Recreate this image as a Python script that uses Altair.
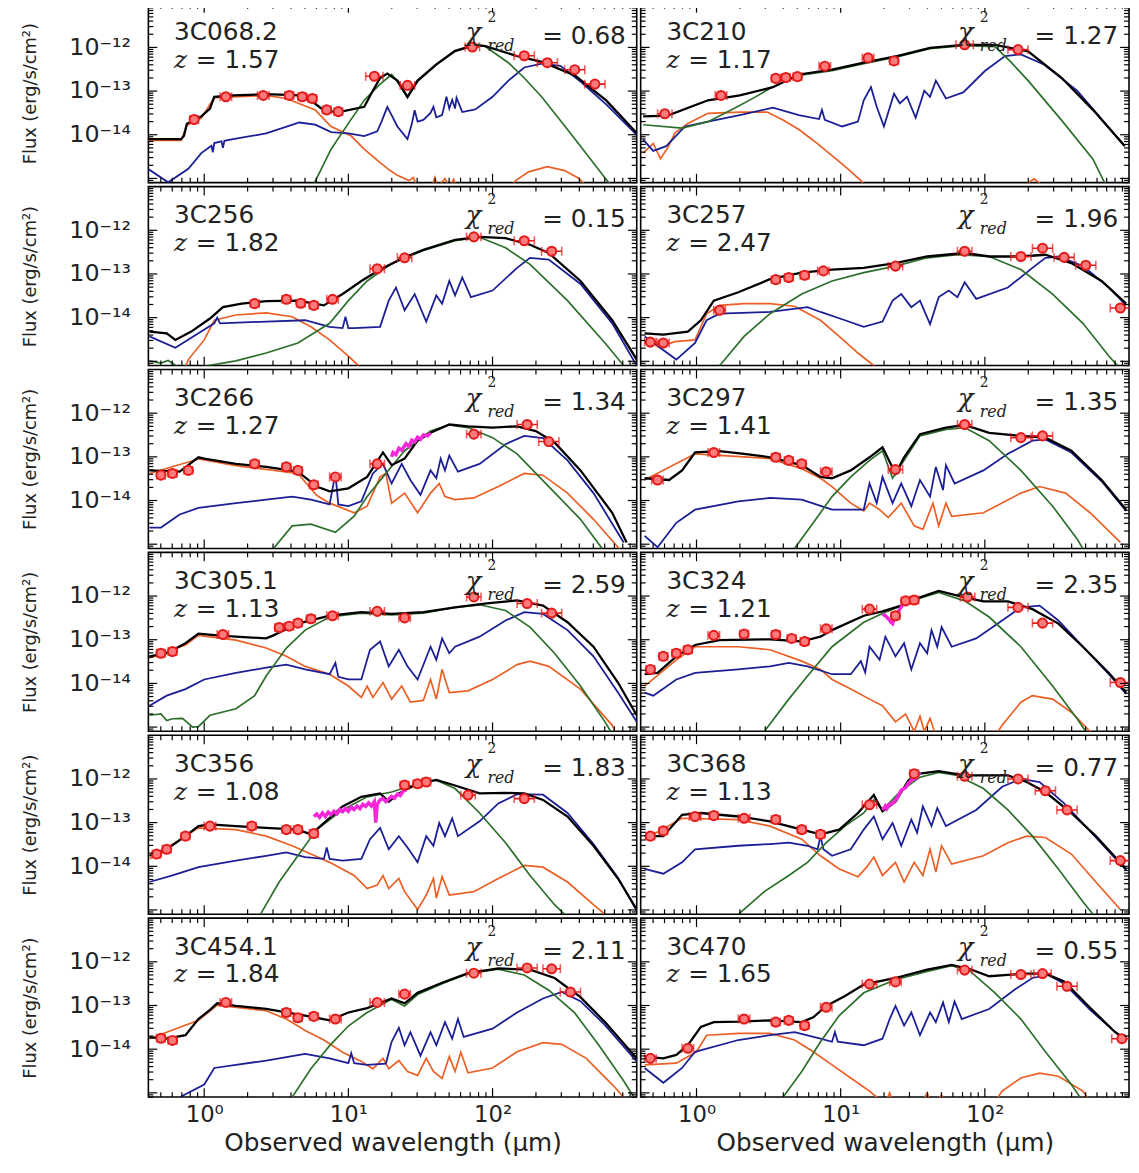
import altair as alt
import pandas as pd

# ------------------------------------------------------------------ labels
NAMES = ["3C068.2", "3C210", "3C256", "3C257", "3C266", "3C297",
         "3C305.1", "3C324", "3C356", "3C368", "3C454.1", "3C470"]
REDSHIFTS = ["1.57", "1.17", "1.82", "2.47", "1.27", "1.41",
             "1.13", "1.21", "1.08", "1.13", "1.84", "1.65"]
CHI2_RED = ["0.68", "1.27", "0.15", "1.96", "1.34", "1.35",
            "2.59", "2.35", "1.83", "0.77", "2.11", "0.55"]

Y_LABEL_VALUES = [1e-14, 1e-13, 1e-12]
X_LABEL_VALUES = [1, 10, 100]
Y_MAJOR = [1e-15, 1e-14, 1e-13, 1e-12]
X_MAJOR = [1, 10, 100]

# ------------------------------------------------------------------ data
# every curve: list of (log10 wavelength [um], log10 flux [erg/s/cm2])
# photometry: (log10 wavelength, log10 flux, half width of x error bar in dex)

P01_BLACK = [(-0.39, -14.10), (-0.16, -14.10), (-0.14, -14.02), (-0.12, -13.75), (-0.02, -13.58), (0.04, -13.40),
             (0.07, -13.13), (0.20, -13.10), (0.43, -13.07), (0.66, -13.10), (0.77, -13.29), (0.84, -13.47),
             (0.95, -13.47), (1.11, -13.36), (1.16, -13.05), (1.22, -12.70), (1.27, -12.60), (1.34, -12.76),
             (1.41, -13.13), (1.48, -12.76), (1.61, -12.39), (1.74, -12.08), (1.88, -11.94), (1.95, -11.97),
             (2.16, -12.19), (2.34, -12.33), (2.57, -12.64), (2.79, -13.22), (3.0, -13.96)]
P01_BLUE = [(-0.39, -14.78), (-0.25, -15.09), (-0.11, -14.78), (-0.02, -14.42), (0.05, -14.25), (0.06, -14.40),
            (0.07, -14.19), (0.12, -14.15), (0.13, -14.30), (0.14, -14.14), (0.20, -14.10), (0.43, -13.97),
            (0.66, -13.72), (0.77, -13.77), (0.88, -13.94), (1.0, -13.97), (1.11, -14.03), (1.20, -13.92),
            (1.23, -13.70), (1.27, -13.36), (1.30, -13.55), (1.34, -13.81), (1.41, -14.10), (1.44, -13.75),
            (1.46, -13.44), (1.48, -13.70), (1.52, -13.66), (1.57, -13.50), (1.59, -13.36), (1.61, -13.60),
            (1.65, -13.55), (1.68, -13.13), (1.70, -13.40), (1.72, -13.20), (1.74, -13.40), (1.75, -13.15),
            (1.79, -13.48), (1.88, -13.42), (2.0, -13.13), (2.11, -12.76), (2.22, -12.46), (2.34, -12.37),
            (2.47, -12.42), (2.61, -12.78), (2.79, -13.31), (3.0, -14.0)]
P01_ORANGE = [(-0.39, -14.13), (-0.16, -14.13), (-0.12, -13.78), (-0.02, -13.62), (0.07, -13.15), (0.43, -13.10),
              (0.57, -13.17), (0.77, -13.43), (0.88, -13.81), (1.02, -14.03), (1.11, -14.33), (1.22, -14.64),
              (1.29, -14.82), (1.34, -14.93), (1.42, -15.05), (1.45, -14.98), (1.48, -15.20), (1.58, -15.20),
              (1.60, -14.98), (1.62, -15.20), (1.67, -15.0), (1.70, -15.20), (1.73, -15.02), (1.76, -15.3),
              (2.10, -15.3), (2.16, -15.05), (2.25, -14.85), (2.38, -14.73), (2.50, -14.82), (2.60, -15.0),
              (2.68, -15.3)]
P01_GREEN = [(0.75, -15.2), (0.88, -14.33), (1.0, -13.74), (1.11, -13.21), (1.22, -12.84), (1.30, -12.62),
             (1.34, -12.78), (1.41, -13.15), (1.48, -12.78), (1.61, -12.40), (1.74, -12.09), (1.88, -11.95),
             (1.95, -11.98), (2.11, -12.35), (2.22, -12.70), (2.34, -13.13), (2.52, -13.88), (2.68, -14.56),
             (2.82, -15.16)]
P01_POINTS = [(-0.07, -13.65, 0.03), (0.15, -13.13, 0.04), (0.41, -13.10, 0.04), (0.59, -13.10, 0.03),
              (0.68, -13.13, 0.03), (0.75, -13.17, 0.03), (0.85, -13.43, 0.03), (0.93, -13.47, 0.03),
              (1.18, -12.66, 0.06), (1.41, -12.87, 0.05), (1.86, -11.99, 0.05), (2.22, -12.19, 0.07),
              (2.38, -12.35, 0.07), (2.57, -12.51, 0.07), (2.71, -12.84, 0.07)]

P02_BLACK = [(-0.37, -13.58), (-0.20, -13.56), (0.08, -13.21), (0.30, -13.10), (0.53, -12.91), (0.71, -12.62),
             (0.94, -12.51), (1.16, -12.35), (1.39, -12.20), (1.62, -12.01), (1.85, -11.94), (2.07, -11.94),
             (2.30, -12.09), (2.53, -12.69), (2.75, -13.43), (2.97, -14.26)]
P02_BLUE = [(-0.37, -14.11), (-0.30, -14.37), (-0.21, -14.26), (-0.08, -13.81), (0.08, -13.70), (0.30, -13.55),
            (0.53, -13.38), (0.71, -13.55), (0.85, -13.64), (0.87, -13.43), (0.89, -13.66), (1.01, -13.81),
            (1.12, -13.70), (1.16, -13.21), (1.21, -12.91), (1.25, -13.36), (1.30, -13.81), (1.37, -13.06),
            (1.41, -13.28), (1.46, -13.13), (1.52, -13.61), (1.58, -12.99), (1.62, -13.13), (1.66, -12.76),
            (1.73, -13.17), (1.85, -13.03), (2.0, -12.54), (2.14, -12.20), (2.25, -12.16), (2.41, -12.39),
            (2.64, -12.99), (2.97, -14.26)]
P02_ORANGE = [(-0.37, -14.42), (-0.30, -14.20), (-0.25, -14.55), (-0.20, -14.30), (-0.15, -13.96), (-0.06, -13.74),
              (0.08, -13.51), (0.30, -13.48), (0.49, -13.48), (0.60, -13.66), (0.71, -13.88), (0.83, -14.18),
              (0.94, -14.48), (1.05, -14.78), (1.14, -15.05), (1.20, -15.3), (2.22, -15.3), (2.34, -15.01),
              (2.46, -15.3)]
P02_GREEN = [(-0.37, -13.77), (-0.10, -13.85), (0.08, -13.70), (0.26, -13.40), (0.40, -13.15), (0.53, -12.90),
             (0.71, -12.64), (0.94, -12.53), (1.16, -12.37), (1.39, -12.22), (1.62, -12.03), (1.85, -11.96),
             (2.07, -11.98), (2.18, -12.33), (2.30, -12.76), (2.53, -13.66), (2.75, -14.56), (2.84, -15.16)]
P02_POINTS = [(-0.22, -13.52, 0.05), (0.17, -13.10, 0.04), (0.55, -12.71, 0.03), (0.62, -12.69, 0.03),
              (0.70, -12.67, 0.03), (0.89, -12.43, 0.04), (1.19, -12.24, 0.04), (1.37, -12.31, 0.03),
              (1.86, -11.94, 0.06), (2.23, -12.05, 0.07)]

P03_BLACK = [(-0.38, -14.32), (-0.26, -14.36), (-0.20, -14.51), (-0.09, -14.32), (0.04, -14.02), (0.13, -13.76),
             (0.26, -13.68), (0.43, -13.62), (0.65, -13.61), (0.83, -13.72), (0.96, -13.46), (1.09, -13.16),
             (1.22, -12.90), (1.39, -12.62), (1.52, -12.45), (1.74, -12.22), (1.91, -12.15), (2.09, -12.18),
             (2.26, -12.33), (2.39, -12.52), (2.61, -13.16), (2.83, -14.06), (3.0, -14.96)]
P03_BLUE = [(-0.38, -14.43), (-0.20, -14.69), (-0.04, -14.36), (0.07, -14.13), (0.09, -14.0), (0.11, -14.13),
            (0.43, -14.09), (0.70, -14.06), (0.87, -14.21), (0.96, -14.24), (0.98, -13.98), (1.00, -14.24),
            (1.04, -14.24), (1.22, -14.21), (1.28, -13.61), (1.33, -13.31), (1.39, -13.83), (1.46, -13.46),
            (1.54, -14.09), (1.61, -13.49), (1.65, -13.68), (1.70, -13.16), (1.74, -13.49), (1.79, -13.08),
            (1.85, -13.53), (2.0, -13.38), (2.17, -12.86), (2.26, -12.63), (2.39, -12.67), (2.61, -13.23),
            (2.83, -14.13), (3.0, -15.10)]
P03_ORANGE = [(-0.15, -15.3), (-0.11, -14.96), (0.0, -14.51), (0.07, -14.06), (0.22, -13.94), (0.43, -13.89),
              (0.61, -13.98), (0.74, -14.21), (0.87, -14.51), (1.0, -14.88), (1.07, -15.10), (1.12, -15.3)]
P03_GREEN = [(-0.38, -14.99), (-0.30, -15.04), (-0.25, -14.98), (-0.15, -15.2), (0.22, -14.99), (0.43, -14.81),
             (0.65, -14.58), (0.87, -14.13), (1.0, -13.61), (1.13, -13.16), (1.30, -12.76), (1.52, -12.46),
             (1.74, -12.24), (1.91, -12.16), (2.09, -12.40), (2.26, -12.78), (2.52, -13.61), (2.78, -14.58),
             (2.91, -15.10)]
P03_POINTS = [(0.35, -13.68, 0.03), (0.57, -13.58, 0.03), (0.67, -13.67, 0.03), (0.76, -13.72, 0.03),
              (0.89, -13.58, 0.04), (1.20, -12.88, 0.05), (1.39, -12.63, 0.05), (1.87, -12.15, 0.05),
              (2.22, -12.24, 0.07), (2.41, -12.48, 0.07)]

P04_BLACK = [(-0.36, -14.36), (-0.23, -14.39), (-0.06, -14.32), (0.03, -14.06), (0.12, -13.61), (0.29, -13.42),
             (0.51, -13.12), (0.73, -12.97), (0.94, -12.90), (1.16, -12.86), (1.38, -12.75), (1.60, -12.60),
             (1.86, -12.52), (2.03, -12.60), (2.25, -12.60), (2.42, -12.56), (2.60, -12.75), (2.81, -13.16),
             (2.98, -13.68)]
P04_BLUE = [(-0.36, -14.43), (-0.14, -14.96), (-0.01, -14.58), (0.07, -14.06), (0.16, -13.91), (0.51, -13.87),
            (0.77, -13.76), (0.86, -13.87), (1.03, -14.06), (1.16, -14.21), (1.29, -14.09), (1.36, -13.61),
            (1.42, -13.46), (1.49, -13.76), (1.55, -13.61), (1.62, -14.15), (1.68, -13.53), (1.75, -13.38),
            (1.81, -13.53), (1.86, -13.19), (1.94, -13.57), (2.16, -13.31), (2.33, -12.86), (2.42, -12.63),
            (2.51, -12.60), (2.68, -12.82), (2.86, -13.31), (2.98, -13.72)]
P04_ORANGE = [(-0.36, -14.58), (-0.30, -14.50), (-0.25, -14.66), (-0.15, -14.55), (-0.01, -14.51), (0.07, -13.91),
              (0.16, -13.72), (0.33, -13.68), (0.51, -13.68), (0.68, -13.74), (0.86, -14.06), (0.99, -14.43),
              (1.12, -14.81), (1.23, -15.10), (1.28, -15.3)]
P04_GREEN = [(0.16, -15.10), (0.33, -14.43), (0.51, -13.91), (0.73, -13.46), (0.94, -13.16), (1.16, -12.97),
             (1.38, -12.82), (1.60, -12.63), (1.81, -12.56), (2.03, -12.60), (2.25, -12.90), (2.47, -13.46),
             (2.68, -14.13), (2.86, -14.88), (2.92, -15.10)]
P04_POINTS = [(-0.32, -14.56, 0.04), (-0.23, -14.58, 0.04), (0.16, -13.83, 0.04), (0.55, -13.13, 0.03),
              (0.64, -13.08, 0.03), (0.75, -13.03, 0.03), (0.88, -12.93, 0.04), (1.38, -12.82, 0.05),
              (1.86, -12.48, 0.05), (2.25, -12.60, 0.07), (2.40, -12.41, 0.07), (2.55, -12.62, 0.07),
              (2.70, -12.80, 0.07), (2.94, -13.78, 0.07)]

P05_BLACK = [(-0.38, -13.31), (-0.17, -13.34), (-0.04, -13.01), (0.0, -13.04), (0.22, -13.16), (0.43, -13.23),
             (0.65, -13.34), (0.78, -13.68), (0.87, -13.79), (1.0, -13.72), (1.13, -13.46), (1.24, -12.90),
             (1.30, -13.19), (1.39, -13.04), (1.48, -12.63), (1.57, -12.45), (1.70, -12.26), (1.83, -12.30),
             (2.0, -12.33), (2.17, -12.30), (2.30, -12.41), (2.43, -12.67), (2.61, -13.31), (2.83, -14.28),
             (2.93, -14.96)]
P05_BLUE = [(-0.38, -14.62), (-0.30, -14.62), (-0.17, -14.32), (-0.04, -14.17), (0.22, -14.06), (0.43, -13.98),
            (0.61, -13.91), (0.74, -13.98), (0.87, -14.09), (0.91, -13.38), (0.93, -14.09), (1.0, -14.13),
            (1.09, -14.02), (1.17, -13.38), (1.24, -13.16), (1.30, -13.61), (1.37, -13.16), (1.43, -13.53),
            (1.50, -13.87), (1.57, -13.31), (1.61, -13.49), (1.64, -13.04), (1.67, -13.31), (1.70, -12.97),
            (1.76, -13.34), (1.91, -13.16), (2.09, -12.71), (2.22, -12.52), (2.35, -12.57), (2.52, -13.08),
            (2.70, -13.83), (2.91, -14.96)]
P05_ORANGE = [(-0.38, -13.38), (-0.04, -13.05), (0.22, -13.20), (0.65, -13.38), (0.78, -13.88), (0.87, -14.06),
              (1.04, -14.28), (1.13, -14.13), (1.22, -13.46), (1.26, -13.38), (1.30, -14.06), (1.39, -13.83),
              (1.48, -14.28), (1.57, -13.83), (1.63, -13.61), (1.67, -13.91), (1.74, -13.98), (1.87, -13.94),
              (2.04, -13.68), (2.22, -13.38), (2.35, -13.42), (2.52, -13.83), (2.70, -14.43), (2.87, -15.07),
              (2.92, -15.3)]
P05_GREEN = [(0.48, -15.10), (0.61, -14.58), (0.74, -14.54), (0.91, -14.73), (1.04, -14.36), (1.13, -13.91),
             (1.26, -13.38), (1.39, -12.86), (1.57, -12.41), (1.70, -12.27), (1.83, -12.33), (2.0, -12.56),
             (2.17, -12.93), (2.39, -13.68), (2.61, -14.43), (2.76, -15.10)]
P05_IRS = [(1.30, -13.0), (1.31, -12.90), (1.33, -12.95), (1.35, -12.80), (1.37, -12.85), (1.40, -12.70),
           (1.42, -12.76), (1.44, -12.62), (1.46, -12.66), (1.48, -12.55), (1.50, -12.60), (1.52, -12.50),
           (1.55, -12.52), (1.57, -12.45)]
P05_POINTS = [(-0.30, -13.42, 0.03), (-0.22, -13.38, 0.03), (-0.11, -13.31, 0.03), (0.35, -13.16, 0.03),
              (0.57, -13.23, 0.03), (0.65, -13.31, 0.03), (0.76, -13.64, 0.03), (0.91, -13.46, 0.04),
              (1.20, -13.16, 0.05), (1.87, -12.48, 0.05), (2.24, -12.26, 0.07), (2.39, -12.65, 0.07)]

P06_BLACK = [(-0.36, -13.49), (-0.19, -13.53), (-0.10, -13.31), (-0.01, -12.90), (0.16, -12.87), (0.33, -12.93),
             (0.51, -13.01), (0.73, -13.19), (0.86, -13.46), (0.94, -13.49), (1.07, -13.31), (1.20, -13.01),
             (1.29, -12.78), (1.38, -13.38), (1.44, -13.01), (1.55, -12.48), (1.73, -12.33), (1.86, -12.27),
             (2.03, -12.45), (2.25, -12.52), (2.42, -12.56), (2.60, -12.86), (2.81, -13.53), (2.98, -14.21)]
P06_BLUE = [(-0.36, -14.81), (-0.27, -15.07), (-0.14, -14.51), (-0.01, -14.21), (0.29, -14.02), (0.51, -13.94),
            (0.73, -13.98), (0.94, -14.21), (1.16, -14.21), (1.20, -13.61), (1.25, -14.06), (1.29, -13.46),
            (1.36, -14.06), (1.42, -13.61), (1.49, -14.13), (1.55, -13.53), (1.62, -13.91), (1.66, -13.23),
            (1.71, -13.76), (1.73, -13.19), (1.79, -13.61), (1.99, -13.31), (2.16, -12.93), (2.33, -12.63),
            (2.42, -12.60), (2.60, -12.90), (2.81, -13.56), (2.98, -14.24)]
P06_ORANGE = [(-0.36, -13.53), (-0.01, -12.93), (0.51, -13.04), (0.73, -13.27), (0.86, -13.49), (0.94, -13.68),
              (1.07, -14.06), (1.16, -14.24), (1.20, -14.06), (1.27, -14.21), (1.33, -14.39), (1.42, -14.06),
              (1.51, -14.58), (1.57, -14.66), (1.64, -14.06), (1.68, -14.58), (1.73, -14.06), (1.77, -14.36),
              (1.99, -14.28), (2.25, -13.83), (2.38, -13.68), (2.56, -13.83), (2.73, -14.28), (2.94, -14.96)]
P06_GREEN = [(0.68, -15.10), (0.81, -14.51), (0.94, -13.91), (1.07, -13.46), (1.20, -13.08), (1.29, -12.86),
             (1.36, -13.49), (1.44, -13.08), (1.55, -12.52), (1.73, -12.37), (1.86, -12.33), (2.03, -12.63),
             (2.25, -13.31), (2.47, -14.13), (2.64, -14.88), (2.68, -15.10)]
P06_POINTS = [(-0.27, -13.53, 0.04), (0.12, -12.90, 0.04), (0.55, -13.01, 0.03), (0.64, -13.08, 0.03),
              (0.73, -13.16, 0.03), (0.90, -13.34, 0.04), (1.38, -13.29, 0.05), (1.86, -12.26, 0.05),
              (2.25, -12.56, 0.07), (2.40, -12.52, 0.07)]

P07_BLACK = [(-0.38, -13.38), (-0.26, -13.31), (-0.13, -13.08), (-0.04, -12.86), (0.09, -12.90), (0.22, -12.93),
             (0.43, -12.97), (0.48, -12.90), (0.65, -12.63), (0.87, -12.45), (1.09, -12.37), (1.30, -12.41),
             (1.52, -12.37), (1.74, -12.26), (1.96, -12.17), (2.17, -12.10), (2.35, -12.22), (2.52, -12.60),
             (2.70, -13.16), (2.87, -13.98), (3.0, -14.73)]
P07_BLUE = [(-0.38, -14.51), (-0.26, -14.28), (-0.13, -14.13), (0.0, -13.91), (0.22, -13.76), (0.43, -13.64),
            (0.57, -13.57), (0.70, -13.68), (0.87, -13.79), (0.91, -13.53), (0.93, -13.85), (1.0, -13.91),
            (1.09, -13.91), (1.15, -13.23), (1.22, -13.04), (1.28, -13.61), (1.35, -13.23), (1.41, -13.61),
            (1.48, -13.91), (1.57, -13.16), (1.61, -13.46), (1.65, -12.97), (1.70, -13.31), (1.74, -13.16),
            (1.91, -12.93), (2.09, -12.56), (2.22, -12.37), (2.35, -12.41), (2.52, -12.78), (2.70, -13.38),
            (2.87, -14.21), (3.0, -14.88)]
P07_ORANGE = [(-0.38, -13.42), (-0.13, -13.12), (-0.04, -12.90), (0.22, -13.01), (0.43, -13.19), (0.57, -13.38),
              (0.70, -13.61), (0.87, -13.79), (1.0, -14.06), (1.09, -14.32), (1.13, -14.06), (1.17, -14.32),
              (1.24, -13.98), (1.30, -14.36), (1.37, -14.06), (1.43, -14.43), (1.52, -14.39), (1.57, -13.91),
              (1.61, -14.36), (1.65, -13.68), (1.70, -14.21), (1.83, -14.17), (2.0, -13.91), (2.17, -13.57),
              (2.26, -13.49), (2.39, -13.61), (2.61, -14.13), (2.83, -14.96), (2.88, -15.3)]
P07_GREEN = [(-0.38, -14.73), (-0.30, -14.70), (-0.26, -14.85), (-0.22, -14.81), (-0.15, -14.80), (-0.08, -15.0),
             (-0.04, -14.99), (0.04, -14.73), (0.22, -14.58), (0.35, -14.28), (0.43, -13.83), (0.57, -13.19),
             (0.70, -12.78), (0.87, -12.48), (1.09, -12.39), (1.30, -12.43), (1.52, -12.39), (1.74, -12.26),
             (1.91, -12.20), (2.09, -12.33), (2.26, -12.71), (2.43, -13.31), (2.61, -14.06), (2.78, -14.88),
             (2.82, -15.10)]
P07_POINTS = [(-0.30, -13.31, 0.03), (-0.22, -13.27, 0.03), (0.13, -12.88, 0.04), (0.52, -12.72, 0.03),
              (0.59, -12.69, 0.03), (0.65, -12.62, 0.03), (0.74, -12.52, 0.03), (0.89, -12.45, 0.04),
              (1.20, -12.35, 0.05), (1.39, -12.50, 0.04), (1.87, -12.02, 0.05), (2.24, -12.17, 0.07),
              (2.41, -12.39, 0.07)]

P08_BLACK = [(-0.36, -13.79), (-0.27, -13.76), (-0.14, -13.38), (-0.01, -13.12), (0.16, -13.01), (0.51, -12.99),
             (0.73, -13.04), (0.86, -12.93), (0.94, -12.78), (1.16, -12.45), (1.29, -12.35), (1.42, -12.22),
             (1.55, -12.03), (1.68, -11.88), (1.86, -12.03), (1.99, -12.12), (2.16, -12.12), (2.33, -12.30),
             (2.51, -12.63), (2.68, -13.16), (2.86, -13.76), (2.98, -14.21)]
P08_BLUE = [(-0.36, -14.21), (-0.30, -14.28), (-0.14, -13.91), (-0.01, -13.76), (0.29, -13.68), (0.51, -13.61),
            (0.64, -13.53), (0.77, -13.61), (0.94, -13.79), (1.07, -13.79), (1.14, -13.49), (1.17, -13.75),
            (1.20, -13.16), (1.27, -13.46), (1.31, -12.93), (1.38, -13.38), (1.44, -13.08), (1.49, -13.68),
            (1.55, -13.08), (1.60, -13.31), (1.63, -12.78), (1.67, -13.16), (1.70, -12.71), (1.77, -13.16),
            (1.94, -12.97), (2.12, -12.56), (2.25, -12.26), (2.38, -12.22), (2.51, -12.56), (2.68, -13.16),
            (2.86, -13.79), (2.98, -14.24)]
P08_ORANGE = [(-0.36, -14.06), (-0.14, -13.46), (-0.01, -13.16), (0.29, -13.16), (0.51, -13.23), (0.73, -13.49),
              (0.86, -13.68), (0.94, -13.91), (1.07, -14.13), (1.20, -14.36), (1.29, -14.51), (1.38, -14.88),
              (1.45, -14.70), (1.51, -15.10), (1.55, -14.75), (1.58, -15.10), (1.62, -14.80), (1.65, -15.10),
              (1.70, -15.3), (2.05, -15.3), (2.12, -14.96), (2.25, -14.43), (2.33, -14.28), (2.47, -14.36),
              (2.60, -14.66), (2.73, -15.10), (2.78, -15.3)]
P08_GREEN = [(0.47, -15.10), (0.64, -14.36), (0.77, -13.83), (0.94, -13.16), (1.16, -12.60), (1.29, -12.40),
             (1.38, -12.28), (1.55, -12.05), (1.68, -11.92), (1.86, -12.11), (2.03, -12.48), (2.25, -13.16),
             (2.47, -14.06), (2.64, -14.81), (2.70, -15.10)]
P08_IRS = [(1.29, -12.41), (1.31, -12.45), (1.33, -12.52), (1.35, -12.60), (1.36, -12.63), (1.37, -12.52),
           (1.39, -12.40), (1.41, -12.30), (1.44, -12.15)]
P08_POINTS = [(-0.32, -13.68, 0.03), (-0.23, -13.38, 0.03), (-0.14, -13.31, 0.03), (-0.06, -13.23, 0.03),
              (0.12, -12.90, 0.04), (0.33, -12.87, 0.03), (0.55, -12.88, 0.03), (0.66, -12.97, 0.03),
              (0.75, -13.04, 0.03), (0.90, -12.75, 0.04), (1.20, -12.30, 0.05), (1.38, -12.45, 0.03),
              (1.45, -12.11, 0.03), (1.51, -12.09, 0.03), (1.88, -12.02, 0.05), (2.23, -12.26, 0.07),
              (2.40, -12.62, 0.07), (2.94, -13.98, 0.07)]

P09_BLACK = [(-0.38, -13.76), (-0.26, -13.61), (-0.13, -13.31), (-0.04, -13.08), (0.04, -13.04), (0.22, -13.08),
             (0.43, -13.12), (0.65, -13.16), (0.74, -13.27), (0.83, -13.01), (0.96, -12.63), (1.09, -12.41),
             (1.22, -12.33), (1.28, -12.52), (1.35, -12.33), (1.48, -12.11), (1.61, -12.02), (1.74, -12.15),
             (1.91, -12.33), (2.09, -12.32), (2.22, -12.33), (2.35, -12.48), (2.52, -12.86), (2.70, -13.53),
             (2.87, -14.28), (3.0, -14.99)]
P09_BLUE = [(-0.38, -14.36), (-0.22, -14.21), (-0.04, -14.02), (0.22, -13.87), (0.43, -13.76), (0.57, -13.68),
            (0.70, -13.79), (0.83, -13.83), (0.85, -13.57), (0.87, -13.83), (0.96, -13.87), (1.09, -13.83),
            (1.15, -13.38), (1.22, -13.12), (1.28, -13.61), (1.35, -13.31), (1.41, -13.57), (1.48, -13.91),
            (1.54, -13.31), (1.59, -13.53), (1.63, -13.01), (1.67, -13.31), (1.72, -12.90), (1.76, -13.31),
            (1.91, -12.97), (2.04, -12.56), (2.17, -12.35), (2.35, -12.36), (2.52, -12.78), (2.70, -13.49),
            (2.87, -14.26), (3.0, -15.02)]
P09_ORANGE = [(-0.38, -13.83), (-0.04, -13.12), (0.22, -13.16), (0.43, -13.31), (0.61, -13.53), (0.74, -13.72),
              (0.87, -13.91), (1.04, -14.21), (1.13, -14.51), (1.20, -14.43), (1.24, -14.21), (1.28, -14.51),
              (1.35, -14.28), (1.39, -14.58), (1.48, -14.99), (1.54, -14.66), (1.59, -14.28), (1.61, -14.73),
              (1.65, -14.24), (1.70, -14.66), (1.87, -14.58), (2.04, -14.28), (2.22, -13.98), (2.35, -14.02),
              (2.52, -14.36), (2.70, -14.88), (2.78, -15.10)]
P09_GREEN = [(0.39, -15.10), (0.52, -14.36), (0.65, -13.76), (0.78, -13.16), (0.96, -12.71), (1.13, -12.41),
             (1.30, -12.30), (1.48, -12.11), (1.61, -12.03), (1.74, -12.22), (1.91, -12.78), (2.09, -13.46),
             (2.26, -14.21), (2.43, -14.88), (2.50, -15.10)]
P09_IRS = [(0.76, -12.86), (0.78, -12.80), (0.80, -12.88), (0.82, -12.78), (0.84, -12.86), (0.86, -12.76),
           (0.88, -12.82), (0.90, -12.74), (0.92, -12.80), (0.94, -12.70), (0.96, -12.75), (0.98, -12.68),
           (1.00, -12.74), (1.02, -12.64), (1.04, -12.70), (1.06, -12.62), (1.08, -12.68), (1.10, -12.58),
           (1.12, -12.63), (1.14, -12.55), (1.16, -12.62), (1.18, -12.52), (1.19, -13.00), (1.20, -12.58),
           (1.22, -12.48), (1.24, -12.45), (1.26, -12.52), (1.28, -12.46), (1.30, -12.40), (1.32, -12.44),
           (1.34, -12.35), (1.36, -12.38), (1.38, -12.28), (1.40, -12.25)]
P09_POINTS = [(-0.33, -13.72, 0.03), (-0.26, -13.61, 0.03), (-0.13, -13.31, 0.03), (0.04, -13.08, 0.04),
              (0.33, -13.08, 0.03), (0.57, -13.16, 0.03), (0.65, -13.16, 0.03), (0.76, -13.25, 0.03),
              (1.39, -12.14, 0.03), (1.48, -12.11, 0.03), (1.54, -12.07, 0.03), (1.83, -12.37, 0.05),
              (2.22, -12.45, 0.07)]

P10_BLACK = [(-0.36, -13.31), (-0.23, -13.31), (-0.10, -12.82), (0.03, -12.78), (0.29, -12.86), (0.51, -12.97),
             (0.73, -13.16), (0.86, -13.27), (0.99, -13.16), (1.12, -12.78), (1.23, -12.37), (1.29, -12.74),
             (1.38, -12.52), (1.47, -12.03), (1.55, -11.88), (1.68, -11.82), (1.86, -11.92), (2.03, -11.92),
             (2.16, -11.92), (2.29, -12.07), (2.42, -12.30), (2.60, -12.78), (2.77, -13.31), (2.98, -14.06)]
P10_BLUE = [(-0.36, -14.06), (-0.23, -14.17), (-0.10, -13.91), (-0.01, -13.61), (0.29, -13.53), (0.51, -13.49),
            (0.64, -13.46), (0.77, -13.53), (0.84, -13.61), (0.86, -13.31), (0.88, -13.61), (0.94, -13.76),
            (1.07, -13.61), (1.16, -13.16), (1.23, -12.86), (1.29, -13.38), (1.36, -13.01), (1.42, -13.53),
            (1.49, -12.93), (1.53, -13.23), (1.57, -12.63), (1.63, -13.08), (1.67, -12.67), (1.73, -13.08),
            (1.94, -12.71), (2.12, -12.18), (2.25, -12.0), (2.38, -12.07), (2.55, -12.56), (2.77, -13.34),
            (2.98, -14.09)]
P10_ORANGE = [(-0.36, -13.38), (-0.10, -12.90), (0.29, -12.93), (0.51, -13.08), (0.73, -13.38), (0.86, -13.76),
              (0.99, -14.06), (1.12, -14.24), (1.18, -14.02), (1.23, -13.79), (1.29, -14.21), (1.38, -13.91),
              (1.44, -14.36), (1.51, -13.91), (1.57, -14.21), (1.62, -13.61), (1.66, -14.13), (1.70, -13.53),
              (1.77, -13.95), (1.99, -13.76), (2.16, -13.46), (2.29, -13.31), (2.42, -13.34), (2.60, -13.72),
              (2.77, -14.36), (2.94, -14.99)]
P10_GREEN = [(0.29, -15.10), (0.47, -14.58), (0.64, -14.21), (0.77, -13.91), (0.90, -13.46), (1.03, -13.08),
             (1.16, -12.78), (1.23, -12.48), (1.29, -12.71), (1.42, -12.27), (1.55, -11.96), (1.68, -11.85),
             (1.81, -11.92), (1.99, -12.22), (2.16, -12.71), (2.33, -13.31), (2.51, -14.06), (2.68, -14.81),
             (2.75, -15.10)]
P10_IRS = [(1.29, -12.71), (1.31, -12.62), (1.32, -12.68), (1.34, -12.58), (1.36, -12.56), (1.38, -12.48),
           (1.39, -12.45), (1.41, -12.32), (1.42, -12.26), (1.44, -12.22), (1.45, -12.20), (1.47, -12.10),
           (1.49, -12.03), (1.51, -12.00), (1.52, -11.98), (1.55, -11.85)]
P10_POINTS = [(-0.32, -13.31, 0.03), (-0.23, -13.19, 0.03), (-0.01, -12.86, 0.04), (0.12, -12.84, 0.03),
              (0.33, -12.90, 0.04), (0.55, -12.93, 0.03), (0.73, -13.16, 0.03), (0.86, -13.27, 0.03),
              (1.20, -12.59, 0.05), (1.51, -11.88, 0.03), (1.86, -11.94, 0.05), (2.23, -12.00, 0.07),
              (2.42, -12.27, 0.07), (2.57, -12.71, 0.07), (2.94, -13.87, 0.07)]

P11_BLACK = [(-0.38, -13.73), (-0.26, -13.76), (-0.13, -13.68), (-0.04, -13.31), (0.04, -13.10), (0.09, -12.95),
             (0.22, -13.01), (0.43, -13.08), (0.57, -13.16), (0.70, -13.23), (0.87, -13.34), (1.0, -13.16),
             (1.13, -13.06), (1.30, -12.84), (1.39, -12.95), (1.48, -12.71), (1.65, -12.48), (1.83, -12.26),
             (2.04, -12.15), (2.26, -12.18), (2.43, -12.37), (2.61, -12.81), (2.78, -13.38), (3.0, -14.21)]
P11_BLUE = [(-0.17, -15.10), (0.0, -14.81), (0.07, -14.43), (0.22, -14.36), (0.43, -14.26), (0.70, -14.11),
            (0.87, -14.21), (1.0, -14.32), (1.02, -14.09), (1.04, -14.32), (1.13, -14.36), (1.26, -14.33),
            (1.30, -13.83), (1.35, -13.51), (1.39, -13.91), (1.43, -13.61), (1.50, -14.15), (1.57, -13.61),
            (1.61, -13.91), (1.67, -13.38), (1.72, -13.76), (1.76, -13.31), (1.80, -13.72), (2.0, -13.53),
            (2.17, -13.16), (2.35, -12.84), (2.48, -12.69), (2.61, -12.90), (2.78, -13.45), (3.0, -14.28)]
P11_ORANGE = [(-0.38, -13.76), (-0.04, -13.34), (0.09, -12.99), (0.43, -13.12), (0.57, -13.31), (0.70, -13.57),
              (0.83, -13.79), (0.96, -14.07), (1.09, -14.28), (1.17, -14.45), (1.24, -14.21), (1.28, -14.45),
              (1.35, -14.26), (1.41, -14.51), (1.48, -14.60), (1.54, -14.21), (1.59, -14.51), (1.65, -14.67),
              (1.70, -14.17), (1.74, -14.51), (1.78, -14.07), (1.83, -14.54), (2.0, -14.43), (2.17, -14.06),
              (2.35, -13.85), (2.48, -13.89), (2.65, -14.21), (2.83, -14.81), (2.91, -15.10)]
P11_GREEN = [(0.61, -15.10), (0.74, -14.45), (0.87, -13.92), (1.0, -13.47), (1.13, -13.16), (1.30, -12.86),
             (1.39, -13.01), (1.48, -12.75), (1.65, -12.50), (1.83, -12.27), (2.04, -12.17), (2.22, -12.30),
             (2.39, -12.65), (2.57, -13.17), (2.74, -13.92), (2.91, -14.73), (2.98, -15.10)]
P11_POINTS = [(-0.30, -13.75, 0.03), (-0.22, -13.80, 0.03), (0.15, -12.93, 0.04), (0.57, -13.16, 0.03),
              (0.65, -13.28, 0.03), (0.76, -13.25, 0.03), (0.91, -13.31, 0.04), (1.20, -12.93, 0.05),
              (1.39, -12.74, 0.04), (1.87, -12.26, 0.05), (2.24, -12.14, 0.07), (2.41, -12.16, 0.06),
              (2.54, -12.69, 0.07)]

P12_BLACK = [(-0.36, -14.17), (-0.23, -14.21), (-0.14, -14.13), (-0.06, -13.91), (0.03, -13.49), (0.12, -13.38),
             (0.29, -13.37), (0.51, -13.34), (0.73, -13.38), (0.81, -13.27), (0.90, -13.01), (1.03, -12.78),
             (1.16, -12.52), (1.38, -12.37), (1.60, -12.18), (1.77, -12.07), (1.90, -12.17), (2.03, -12.33),
             (2.16, -12.30), (2.29, -12.27), (2.42, -12.27), (2.55, -12.45), (2.73, -13.05), (2.90, -13.60),
             (2.98, -13.78)]
P12_BLUE = [(-0.36, -14.43), (-0.23, -14.77), (-0.10, -14.43), (-0.01, -14.06), (0.29, -13.79), (0.51, -13.68),
            (0.68, -13.61), (0.86, -13.76), (0.94, -13.83), (0.96, -13.61), (0.98, -13.83), (1.16, -13.91),
            (1.29, -13.76), (1.34, -13.31), (1.38, -13.01), (1.44, -13.46), (1.49, -13.16), (1.55, -13.68),
            (1.62, -13.16), (1.66, -13.38), (1.71, -12.93), (1.75, -13.38), (1.79, -12.91), (1.84, -13.31),
            (2.03, -13.08), (2.21, -12.63), (2.33, -12.37), (2.44, -12.30), (2.55, -12.50), (2.73, -13.10),
            (2.98, -13.83)]
P12_ORANGE = [(-0.36, -14.36), (-0.14, -14.32), (0.0, -14.06), (0.07, -13.68), (0.29, -13.64), (0.51, -13.64),
              (0.68, -13.79), (0.81, -14.06), (0.94, -14.36), (1.07, -14.66), (1.20, -14.96), (1.25, -15.10),
              (1.30, -15.3), (1.34, -15.0), (1.37, -15.3), (1.55, -15.3), (1.60, -15.0), (1.63, -15.3),
              (1.70, -15.05), (1.73, -15.3), (2.05, -15.3), (2.12, -14.96), (2.25, -14.66), (2.38, -14.55),
              (2.51, -14.62), (2.68, -14.96), (2.75, -15.3)]
P12_GREEN = [(0.60, -15.10), (0.73, -14.51), (0.86, -13.83), (0.99, -13.23), (1.16, -12.71), (1.38, -12.41),
             (1.60, -12.22), (1.77, -12.09), (1.90, -12.22), (2.07, -12.71), (2.25, -13.31), (2.42, -14.06),
             (2.60, -14.81), (2.66, -15.10)]
P12_POINTS = [(-0.32, -14.21, 0.04), (-0.06, -13.98, 0.04), (0.33, -13.31, 0.04), (0.55, -13.38, 0.03),
              (0.64, -13.34, 0.03), (0.75, -13.46, 0.03), (0.90, -13.04, 0.04), (1.20, -12.51, 0.05),
              (1.38, -12.46, 0.04), (1.86, -12.19, 0.05), (2.25, -12.29, 0.07), (2.40, -12.27, 0.06),
              (2.57, -12.56, 0.07), (2.95, -13.76, 0.07)]

PANELS = [
    dict(black=P01_BLACK, blue=P01_BLUE, orange=P01_ORANGE, green=P01_GREEN, pts=P01_POINTS, irs=None),
    dict(black=P02_BLACK, blue=P02_BLUE, orange=P02_ORANGE, green=P02_GREEN, pts=P02_POINTS, irs=None),
    dict(black=P03_BLACK, blue=P03_BLUE, orange=P03_ORANGE, green=P03_GREEN, pts=P03_POINTS, irs=None),
    dict(black=P04_BLACK, blue=P04_BLUE, orange=P04_ORANGE, green=P04_GREEN, pts=P04_POINTS, irs=None),
    dict(black=P05_BLACK, blue=P05_BLUE, orange=P05_ORANGE, green=P05_GREEN, pts=P05_POINTS, irs=P05_IRS),
    dict(black=P06_BLACK, blue=P06_BLUE, orange=P06_ORANGE, green=P06_GREEN, pts=P06_POINTS, irs=None),
    dict(black=P07_BLACK, blue=P07_BLUE, orange=P07_ORANGE, green=P07_GREEN, pts=P07_POINTS, irs=None),
    dict(black=P08_BLACK, blue=P08_BLUE, orange=P08_ORANGE, green=P08_GREEN, pts=P08_POINTS, irs=P08_IRS),
    dict(black=P09_BLACK, blue=P09_BLUE, orange=P09_ORANGE, green=P09_GREEN, pts=P09_POINTS, irs=P09_IRS),
    dict(black=P10_BLACK, blue=P10_BLUE, orange=P10_ORANGE, green=P10_GREEN, pts=P10_POINTS, irs=P10_IRS),
    dict(black=P11_BLACK, blue=P11_BLUE, orange=P11_ORANGE, green=P11_GREEN, pts=P11_POINTS, irs=None),
    dict(black=P12_BLACK, blue=P12_BLUE, orange=P12_ORANGE, green=P12_GREEN, pts=P12_POINTS, irs=None),
]

# ------------------------------------------------------------------ style
SANS = "DejaVu Sans"
SERIF = "DejaVu Serif"
C_BLACK = "#000000"
C_BLUE = "#1b1f96"
C_ORANGE = "#ec5f24"
C_GREEN = "#2b6f2b"
C_RED = "#e41a1a"
C_MAG = "#f527d8"

W, H = 494, 181
XS = alt.Scale(type="log", domain=[0.41, 1000], nice=False)
YS = alt.Scale(type="log", domain=[8e-16, 1e-11], nice=False)

Y_MINOR = [k * 10.0 ** e for e in (-16, -15, -14, -13, -12) for k in range(2, 10)
           if 8e-16 <= k * 10.0 ** e < 1e-11]
X_MINOR = [k * 10.0 ** e for e in (-1, 0, 1, 2) for k in range(2, 10)
           if 0.41 <= k * 10.0 ** e < 1000]
YT_MAJOR = pd.DataFrame({"v": Y_MAJOR})
YT_MINOR = pd.DataFrame({"v": Y_MINOR})
XT_MAJOR = pd.DataFrame({"v": X_MAJOR})
XT_MINOR = pd.DataFrame({"v": X_MINOR})
MAJOR_LEN, MINOR_LEN = 9, 5


def curve_df(pairs):
    return pd.DataFrame({"lam": [10 ** a for a, _ in pairs], "flux": [10 ** b for _, b in pairs]})


def points_df(rows):
    return pd.DataFrame({
        "lam": [10 ** a for a, b, e in rows],
        "lam_lo": [10 ** (a - e) for a, b, e in rows],
        "lam_hi": [10 ** (a + e) for a, b, e in rows],
        "flux": [10 ** b for a, b, e in rows],
    })


def make_panel(i, show_y, show_x):
    p = PANELS[i]
    if show_x:
        xaxis = alt.Axis(values=X_LABEL_VALUES, title="Observed wavelength (μm)",
                         labelExpr="datum.value < 3 ? '10⁰' : (datum.value < 30 ? '10¹' : '10²')",
                         labelFontSize=23, labelPadding=7, titleFontSize=25, titlePadding=4,
                         ticks=False, domain=False, grid=False, labelFlush=False)
    else:
        xaxis = None
    if show_y:
        yaxis = alt.Axis(values=Y_LABEL_VALUES, title="Flux (erg/s/cm²)",
                         labelExpr="datum.value < 3e-14 ? '10⁻¹⁴' : (datum.value < 3e-13 ? '10⁻¹³' : '10⁻¹²')",
                         labelFontSize=24, labelPadding=18, titleFontSize=18, titlePadding=14,
                         minExtent=96, maxExtent=96, tickSize=0,
                         ticks=False, domain=False, grid=False, labelFlush=False)
    else:
        yaxis = None

    def enc(chart, xf="lam"):
        return chart.encode(x=alt.X(f"{xf}:Q", scale=XS, axis=xaxis),
                            y=alt.Y("flux:Q", scale=YS, axis=yaxis))

    layers = []
    for key, color, width in (("orange", C_ORANGE, 1.7), ("blue", C_BLUE, 1.8),
                              ("green", C_GREEN, 1.7), ("black", C_BLACK, 2.3)):
        layers.append(enc(alt.Chart(curve_df(p[key])).mark_line(color=color, strokeWidth=width, clip=True)))
    if p["irs"] is not None:
        layers.append(enc(alt.Chart(curve_df(p["irs"])).mark_line(color=C_MAG, strokeWidth=3.5, clip=True)))

    pts = points_df(p["pts"])
    layers.append(alt.Chart(pts).mark_rule(color=C_RED, strokeWidth=1.6, clip=True).encode(
        x=alt.X("lam_lo:Q", scale=XS, axis=xaxis), x2="lam_hi:Q",
        y=alt.Y("flux:Q", scale=YS, axis=yaxis)))
    for f in ("lam_lo", "lam_hi"):
        layers.append(enc(alt.Chart(pts).mark_tick(orient="vertical", color=C_RED, size=9,
                                                   thickness=1.6, clip=True), xf=f))
    layers.append(enc(alt.Chart(pts).mark_circle(fill="#ff7a7a", stroke=C_RED, strokeWidth=2,
                                                 size=85, opacity=1, clip=True)))

    # inward ticks on all four sides (rules that stay inside the frame)
    for df, ln in ((YT_MAJOR, MAJOR_LEN), (YT_MINOR, MINOR_LEN)):
        for x0, x1 in ((0, ln), (W, W - ln)):
            layers.append(alt.Chart(df).mark_rule(color="black", strokeWidth=1.2).encode(
                y=alt.Y("v:Q", scale=YS, axis=yaxis), x=alt.value(x0), x2=alt.value(x1)))
    for df, ln in ((XT_MAJOR, MAJOR_LEN), (XT_MINOR, MINOR_LEN)):
        for y0, y1 in ((H, H - ln), (0, ln)):
            layers.append(alt.Chart(df).mark_rule(color="black", strokeWidth=1.2).encode(
                x=alt.X("v:Q", scale=XS, axis=xaxis), y=alt.value(y0), y2=alt.value(y1)))

    lab = pd.DataFrame({"name": [NAMES[i]], "z": ["= " + REDSHIFTS[i]], "chi": ["= " + CHI2_RED[i]]})
    txt = dict(baseline="alphabetic", color="#222")
    layers.append(alt.Chart(lab).mark_text(align="left", fontSize=25, font=SANS, **txt).encode(
        x=alt.value(26), y=alt.value(37), text="name:N"))
    layers.append(alt.Chart(lab).mark_text(align="left", fontSize=25, font=SERIF, fontStyle="italic", **txt).encode(
        x=alt.value(26), y=alt.value(65), text=alt.value("z")))
    layers.append(alt.Chart(lab).mark_text(align="left", fontSize=25, font=SANS, **txt).encode(
        x=alt.value(48), y=alt.value(65), text="z:N"))
    layers.append(alt.Chart(lab).mark_text(align="left", fontSize=26, font=SERIF, fontStyle="italic", **txt).encode(
        x=alt.value(W - 173), y=alt.value(38), text=alt.value("χ")))
    layers.append(alt.Chart(lab).mark_text(align="left", fontSize=14, font=SERIF, **txt).encode(
        x=alt.value(W - 151), y=alt.value(18), text=alt.value("2")))
    layers.append(alt.Chart(lab).mark_text(align="left", fontSize=16, font=SERIF, fontStyle="italic", **txt).encode(
        x=alt.value(W - 151), y=alt.value(48), text=alt.value("red")))
    layers.append(alt.Chart(lab).mark_text(align="right", fontSize=25, font=SANS, **txt).encode(
        x=alt.value(W - 11), y=alt.value(41), text="chi:N"))

    return alt.layer(*layers).properties(width=W, height=H)


rows = []
for r in range(6):
    left = make_panel(2 * r, True, r == 5)
    right = make_panel(2 * r + 1, False, r == 5)
    rows.append(alt.hconcat(left, right, spacing=0))

chart = alt.vconcat(*rows, spacing=0).properties(
    padding={"left": 13, "top": -13, "right": 0, "bottom": 0}
).configure_view(
    stroke="black", strokeWidth=1.6
).configure_axis(
    labelFont=SANS, titleFont=SANS, labelColor="#222", titleColor="#222", titleFontWeight="normal"
)

chart.save("out.html", embed_options={"renderer": "svg", "actions": False})
